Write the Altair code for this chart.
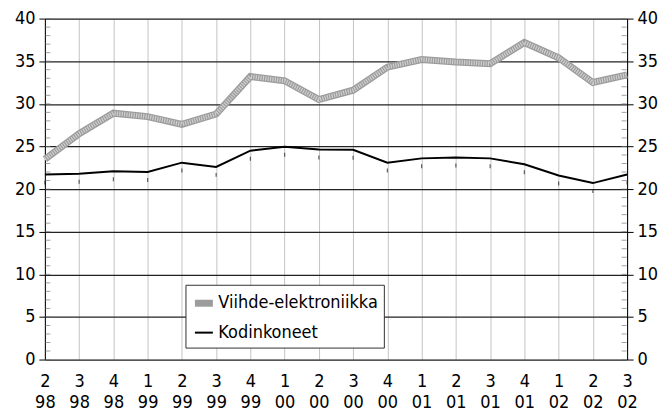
import altair as alt
import pandas as pd

quarters = ["2", "3", "4", "1", "2", "3", "4", "1", "2", "3", "4", "1", "2", "3", "4", "1", "2", "3"]
years = ["98", "98", "98", "99", "99", "99", "99", "00", "00", "00", "00", "01", "01", "01", "01", "02", "02", "02"]
viihde = [23.5, 26.5, 28.9, 28.5, 27.6, 28.8, 33.2, 32.7, 30.5, 31.6, 34.3, 35.2, 34.9, 34.7, 37.2, 35.4, 32.5, 33.4]
kodinkoneet = [21.7, 21.8, 22.1, 22.0, 23.1, 22.6, 24.5, 24.95, 24.65, 24.6, 23.1, 23.6, 23.7, 23.6, 22.9, 21.6, 20.7, 21.7]
series_names = ["Viihde-elektroniikka", "Kodinkoneet"]
y_major = [0, 5, 10, 15, 20, 25, 30, 35, 40]
y_minor = list(range(0, 41))

periods = [f"{q}/{y}" for q, y in zip(quarters, years)]
rows = []
for i, p in enumerate(periods):
    rows.append({"period": p, "series": series_names[0], "value": viihde[i]})
    rows.append({"period": p, "series": series_names[1], "value": kodinkoneet[i]})
df = pd.DataFrame(rows)
df_v = df[df.series == series_names[0]]
df_k = df[df.series == series_names[1]]
df_minor = pd.DataFrame({"v": y_minor})

FONT = "DejaVu Sans Condensed, Roboto, sans-serif"
W, H = 584, 342
PAD_EXPR = "datum.label + '\u2003\u2003\u2003\u2003'"

legend_props = dict(title=None, orient="none", legendX=141, legendY=267,
                    strokeColor="#333", fillColor="white", padding=6,
                    labelFontSize=18, labelFont=FONT, labelColor="black",
                    symbolType="stroke", symbolSize=324, rowPadding=5,
                    labelOffset=2, labelLimit=400, labelExpr=PAD_EXPR)

xenc = alt.X(
    "period:N", sort=periods,
    scale=alt.Scale(type="point", padding=0),
    axis=alt.Axis(title=None, labelExpr="split(datum.label, '/')", labelAngle=0,
                  grid=True, gridColor="#c4c4c4", gridWidth=1, domain=False, ticks=False,
                  labelFontSize=18, labelLineHeight=21, labelPadding=13, labelColor="black",
                  labelFont=FONT),
)
yscale = alt.Scale(domain=[0, 40])

lines = alt.Chart(df).mark_line().encode(
    x=xenc,
    y=alt.Y("value:Q", scale=yscale,
            axis=alt.Axis(title=None, values=y_major, orient="left", grid=True,
                          gridColor="#222", gridWidth=1.3, domainColor="black",
                          tickColor="black", tickSize=6, labelFontSize=18, labelColor="black",
                          labelFont=FONT, labelPadding=4)),
    color=alt.Color("series:N", scale=alt.Scale(domain=series_names, range=["#9c9c9c", "black"]),
                    legend=alt.Legend(**legend_props)),
    strokeWidth=alt.StrokeWidth("series:N", scale=alt.Scale(domain=series_names, range=[7, 2]),
                                legend=alt.Legend(**legend_props)),
)

overlay = alt.Chart(df_v).mark_line(color="#d0d0d0", strokeWidth=4.5, strokeDash=[1.2, 1.2]).encode(
    x=alt.X("period:N", sort=periods, scale=alt.Scale(type="point", padding=0)),
    y=alt.Y("value:Q", scale=yscale, axis=None),
)

marks = alt.Chart(df_k).mark_tick(orient="vertical", color="#222", size=4, thickness=1.2, yOffset=8).encode(
    x=alt.X("period:N", sort=periods, scale=alt.Scale(type="point", padding=0)),
    y=alt.Y("value:Q", scale=yscale, axis=None),
)

minor_left = alt.Chart(df_minor).mark_tick(orient="horizontal", color="#777", size=5, thickness=1).encode(
    x=alt.value(3),
    y=alt.Y("v:Q", scale=yscale, axis=None),
)
minor_right = alt.Chart(df_minor).mark_tick(orient="horizontal", color="#777", size=5, thickness=1).encode(
    x=alt.value(W - 3),
    y=alt.Y("v:Q", scale=yscale, axis=None),
)

right_axis = alt.Chart(df_k).mark_line(opacity=0).encode(
    x=alt.X("period:N", sort=periods, scale=alt.Scale(type="point", padding=0)),
    y=alt.Y("value:Q", scale=yscale,
            axis=alt.Axis(title=None, values=y_major, orient="right", grid=False,
                          domainColor="black", tickColor="black", tickSize=6,
                          labelFontSize=18, labelColor="black", labelFont=FONT, labelPadding=4)),
)

chart = alt.layer(minor_left, minor_right, lines, overlay, marks, right_axis).resolve_scale(
    y="independent"
).properties(width=W, height=H, padding={"left": 6, "top": 1, "right": 5, "bottom": 0}).configure_view(
    stroke=None
).configure(font=FONT, background="white")

chart.save("out.html", embed_options={"renderer": "svg", "actions": False})
